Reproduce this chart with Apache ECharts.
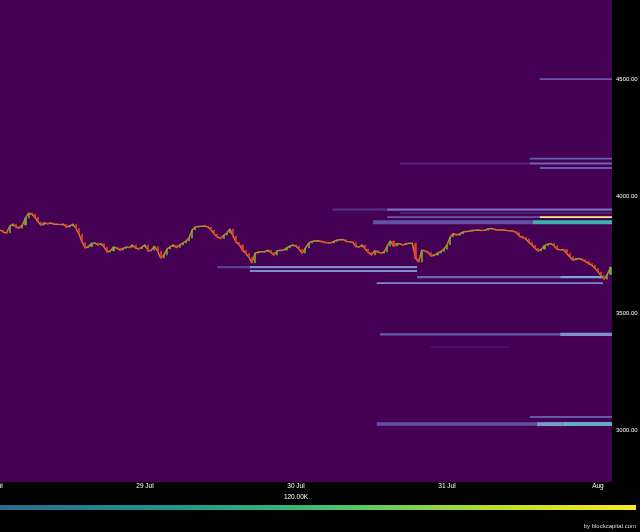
<!DOCTYPE html>
<html><head><meta charset="utf-8">
<script src="https://cdn.jsdelivr.net/npm/echarts@6/dist/echarts.min.js"></script>
<style>html,body{margin:0;padding:0;background:#000}#c{width:640px;height:532px}</style>
</head><body><div id="c"></div>
<script>
// ---- price (30-minute candles starting 28 Jul 01:00) ----
const firstCandle = '2025-07-28 01:00';
const candleMinutes = 30;
const closes = [
3855,3846,3842,3872,3880,3868,3863,3876,3906,3927,3923,3910,3889,3876,3885,3882,3885,3880,3880,3878,
3880,3868,3872,3880,3863,3838,3803,3778,3784,3797,3800,3791,3797,3782,3761,3765,3782,3778,3769,3776,
3782,3780,3791,3778,3774,3782,3791,3765,3769,3786,3765,3735,3748,3774,3783,3791,3780,3791,3799,3808,
3821,3855,3868,3870,3871,3872,3868,3855,3838,3825,3818,3833,3842,3859,3829,3803,3791,3769,3756,3739,
3714,3756,3761,3762,3762,3769,3759,3748,3765,3769,3769,3778,3786,3791,3786,3773,3756,3778,3799,3806,
3808,3809,3806,3803,3800,3799,3806,3812,3813,3814,3806,3805,3803,3784,3782,3791,3774,3759,3748,3767,
3761,3756,3761,3786,3808,3786,3797,3795,3791,3796,3798,3798,3735,3718,3769,3765,3759,3744,3748,3756,
3763,3773,3791,3825,3840,3833,3838,3846,3849,3850,3853,3854,3855,3853,3854,3859,3861,3858,3855,3855,
3855,3853,3852,3850,3844,3829,3823,3818,3803,3791,3777,3765,3773,3788,3795,3797,3788,3773,3770,3772,
3756,3741,3726,3731,3733,3728,3720,3712,3705,3692,3676,3660,3645,3665,3697
];

// ---- order-book heat bands ----
const bandStart = [
'2025-07-31 14:45','2025-07-31 13:10','2025-07-30 16:30','2025-07-31 13:10','2025-07-31 14:45',
'2025-07-30 05:50','2025-07-30 14:30','2025-07-30 16:30','2025-07-30 14:30','2025-07-31 14:45',
'2025-07-30 12:15','2025-07-31 13:40','2025-07-29 11:30','2025-07-29 16:40','2025-07-29 16:40',
'2025-07-30 19:15','2025-07-31 18:00','2025-07-30 12:50','2025-07-30 13:20','2025-07-31 18:00',
'2025-07-30 21:20','2025-07-31 13:10','2025-07-30 12:50','2025-07-31 14:20','2025-07-31 18:25'
];
const bandEnd = [
'2025-08-01 03:00','2025-08-01 03:00','2025-07-31 13:10','2025-08-01 03:00','2025-08-01 03:00',
'2025-07-30 14:30','2025-08-01 03:00','2025-08-01 03:00','2025-07-31 14:45','2025-08-01 03:00',
'2025-07-31 13:40','2025-08-01 03:00','2025-07-29 16:40','2025-07-30 19:15','2025-07-30 19:15',
'2025-07-31 18:00','2025-08-01 00:48','2025-08-01 00:48','2025-07-31 18:00','2025-08-01 03:00',
'2025-07-31 10:00','2025-08-01 03:00','2025-07-31 14:20','2025-07-31 18:25','2025-08-01 03:00'
];
const bandLow = [
4496,4156,4135,4135,4116, 3937,3937,3924,3906,3906, 3880,3880,3692,3692,3675,
3649,3649,3624,3404,3402, 3353,3052,3018,3017,3017
];
const bandHigh = [
4504,4164,4143,4143,4124, 3947,3947,3931,3914,3914, 3897,3897,3701,3701,3684,
3658,3658,3632,3414,3416, 3357,3060,3033,3034,3034
];
const bandValue = [
50000,55000,20000,60000,50000, 25000,65000,25000,50000,240000, 45000,150000,35000,85000,85000,
60000,115000,80000,50000,90000, 15000,50000,45000,100000,130000
];

// ---- axes ----
const yTicks = [3000, 3500, 4000, 4500];
const yMin = 2778, yMax = 4838;
const xMin = '2025-07-28 00:00', xMax = '2025-08-01 02:14';
const monthNames = ['Jan','Feb','Mar','Apr','May','Jun','Jul','Aug','Sep','Oct','Nov','Dec'];
const colorbarLabel = '120.00K';
const credit = 'by blockcapital.com';

function parseT(s){ const [d,t]=s.split(' '); const [Y,M,D]=d.split('-').map(Number); const [h,m]=t.split(':').map(Number); return new Date(Y,M-1,D,h,m).getTime(); }

const t0 = parseT(firstCandle);
const candleData = closes.map((c,i)=>{
  const o = i===0 ? c : closes[i-1];
  return [t0 + i*candleMinutes*60000, o, c, Math.min(o,c), Math.max(o,c)];
});
const lineData = closes.map((c,i)=>[t0 + i*candleMinutes*60000, c]);
const bandData = bandStart.map((s,i)=>[parseT(s), parseT(bandEnd[i]), bandLow[i], bandHigh[i], bandValue[i]]);

const chart = echarts.init(document.getElementById('c'), null, {renderer:'canvas'});
const FONT = 'Liberation Sans, Arial, sans-serif';
chart.setOption({
  backgroundColor:'#000',
  animation:false,
  grid:{left:-6, right:28, top:0, bottom:50, show:true, backgroundColor:'#440154', borderWidth:0, containLabel:false, outerBoundsMode:'none'},
  xAxis:{type:'time', min:parseT(xMin), max:parseT(xMax), minInterval:86400000, maxInterval:86400000,
    axisLine:{show:false}, axisTick:{show:false}, splitLine:{show:false},
    axisLabel:{color:'#fff', fontSize:6.5, fontFamily:FONT, margin:1, showMinLabel:true, hideOverlap:false,
      formatter:(v)=>{const d=new Date(v); return d.getDate()===1? monthNames[d.getMonth()] : d.getDate()+' '+monthNames[d.getMonth()];}}},
  yAxis:{type:'value', position:'right', min:yMin, max:yMax, scale:true,
    axisLine:{show:false}, axisTick:{show:false}, splitLine:{show:false},
    axisLabel:{customValues:yTicks, color:'#fff', fontSize:6, fontFamily:FONT, margin:4,
      formatter:(v)=>v.toFixed(2)}},
  visualMap:{show:false, type:'continuous', seriesIndex:0, dimension:4, min:0, max:240000,
    inRange:{color:['#440154','#5e48a0','#7f86cc','#73aed0','#2fb3a3','#9ad84a','#f8f27a']}},
  series:[
    {type:'custom', clip:true, encode:{x:[0,1], y:[2,3]}, data:bandData,
     renderItem:(params, api)=>{
       const p0 = api.coord([api.value(0), api.value(3)]);
       const p1 = api.coord([api.value(1), api.value(2)]);
       return {type:'rect', shape:{x:p0[0], y:p0[1], width:p1[0]-p0[0], height:Math.max(1,p1[1]-p0[1])},
         style:{fill:api.visual('color')}};
     }},
    {type:'line', data:lineData, symbol:'none', z:4, lineStyle:{color:'#d4782c', width:1.5}},
    {type:'candlestick', data:candleData, barWidth:1.6, z:5,
     itemStyle:{color:'#6fae3c', color0:'#e8402c', borderColor:'#6fae3c', borderColor0:'#e8402c', borderWidth:0.6}}
  ],
  graphic:[
    {type:'rect', left:0, top:505, shape:{width:636, height:5},
     style:{fill:new echarts.graphic.LinearGradient(0,0,1,0,[
       {offset:0,color:'#31688e'},{offset:0.154,color:'#26828e'},{offset:0.308,color:'#1f9e89'},
       {offset:0.462,color:'#35b779'},{offset:0.615,color:'#6ece58'},{offset:0.769,color:'#b5de2b'},{offset:1,color:'#fde725'}])}},
    {type:'text', x:296, y:497, style:{text:colorbarLabel, fill:'#fff', font:'6.5px '+FONT, textAlign:'center', textVerticalAlign:'middle'}},
    {type:'text', x:636, y:526, style:{text:credit, fill:'#ddd', font:'6px '+FONT, textAlign:'right', textVerticalAlign:'middle'}}
  ]
});
</script></body></html>
